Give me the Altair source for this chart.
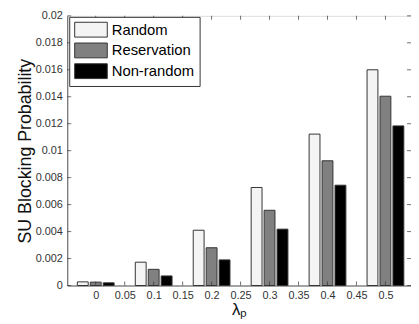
import altair as alt
import pandas as pd

lam = [0, 0.1, 0.2, 0.3, 0.4, 0.5]
series = ["Random", "Reservation", "Non-random"]
random_v = [0.00027, 0.00173, 0.0041, 0.00727, 0.01123, 0.0160]
reserv_v = [0.00025, 0.0012, 0.0028, 0.00558, 0.00925, 0.01404]
nonrand_v = [0.0002, 0.00071, 0.0019, 0.00418, 0.00744, 0.01184]
x_ticks = [0, 0.05, 0.1, 0.15, 0.2, 0.25, 0.3, 0.35, 0.4, 0.45, 0.5]
y_ticks = [0, 0.002, 0.004, 0.006, 0.008, 0.01, 0.012, 0.014, 0.016, 0.018, 0.02]

rows = []
for i, s in enumerate(series):
    vals = [random_v, reserv_v, nonrand_v][i]
    for l, v in zip(lam, vals):
        rows.append({"lam": l, "series": s, "idx": i, "value": v})
df = pd.DataFrame(rows)

W, H = 348, 273
FONT = "Liberation Sans"
xscale = alt.Scale(domain=[-0.0406, 0.5356], nice=False, zero=False)
yscale = alt.Scale(domain=[0, 0.02], nice=False)

xaxis = alt.Axis(values=x_ticks, format="~g", title="λₚ",
                 tickSize=0, labelPadding=4, labelFontSize=11,
                 labelOverlap=False, labelFlush=False,
                 labelColor="#333333", titleFontSize=17,
                 titleFont=FONT, labelFont=FONT, titleFontWeight="normal",
                 titleColor="#111111", titlePadding=1,
                 domainColor="#555555", grid=False)
yaxis = alt.Axis(values=y_ticks, format="~g", title="SU Blocking Probability",
                 tickSize=0, labelPadding=5, labelFontSize=11,
                 labelOverlap=False, labelFlush=False,
                 labelColor="#333333", titleFontSize=18,
                 titleFont=FONT, labelFont=FONT, titleFontWeight="normal",
                 titleColor="#111111", titlePadding=1,
                 domainColor="#555555", grid=False)

# legend swatch: 33 x 15 px rectangle, left edge at symbol box left
shape = "M-1,-1H3.4V1H-1Z"

bars = alt.Chart(df).transform_calculate(
    xpos="datum.lam + (datum.idx - 1) * 0.02235"
).mark_bar(size=11, stroke="#333333", strokeWidth=1).encode(
    x=alt.X("xpos:Q", scale=xscale, axis=xaxis),
    y=alt.Y("value:Q", scale=yscale, axis=yaxis),
    fill=alt.Fill("series:N",
                  scale=alt.Scale(domain=series, range=["#f4f4f4", "#808080", "#000000"]),
                  legend=alt.Legend(title=None, orient="none", legendX=2, legendY=1,
                                    symbolType=shape, symbolSize=225,
                                    symbolStrokeColor="#333333", symbolStrokeWidth=1,
                                    labelFontSize=15, labelFont=FONT, labelColor="#000000",
                                    labelOffset=22, rowPadding=1, padding=5,
                                    strokeColor="#333333", fillColor="white",
                                    symbolOpacity=1)),
)

ydf = pd.DataFrame({"v": y_ticks})
xdf = pd.DataFrame({"v": x_ticks})
tick_col = "#333333"
yl = alt.Chart(ydf).mark_tick(orient="horizontal", size=4, thickness=1, color=tick_col).encode(
    x=alt.value(2), y=alt.Y("v:Q", scale=yscale, axis=yaxis))
yr = alt.Chart(ydf).mark_tick(orient="horizontal", size=4, thickness=1, color=tick_col).encode(
    x=alt.value(W - 2), y=alt.Y("v:Q", scale=yscale, axis=yaxis))
xb = alt.Chart(xdf).mark_tick(orient="vertical", size=4, thickness=1, color=tick_col).encode(
    y=alt.value(H - 2), x=alt.X("v:Q", scale=xscale, axis=xaxis))
xt = alt.Chart(xdf).mark_tick(orient="vertical", size=4, thickness=1, color=tick_col).encode(
    y=alt.value(2), x=alt.X("v:Q", scale=xscale, axis=xaxis))

chart = alt.layer(bars, yl, yr, xb, xt).properties(
    width=W, height=H,
    autosize=alt.AutoSizeParams(type="none"),
    padding={"left": 60, "top": 6, "right": 0, "bottom": 36},
).configure_view(stroke="#555555", strokeWidth=1).configure(background="white")

chart.save("out.html", embed_options={"renderer": "svg", "actions": False})
